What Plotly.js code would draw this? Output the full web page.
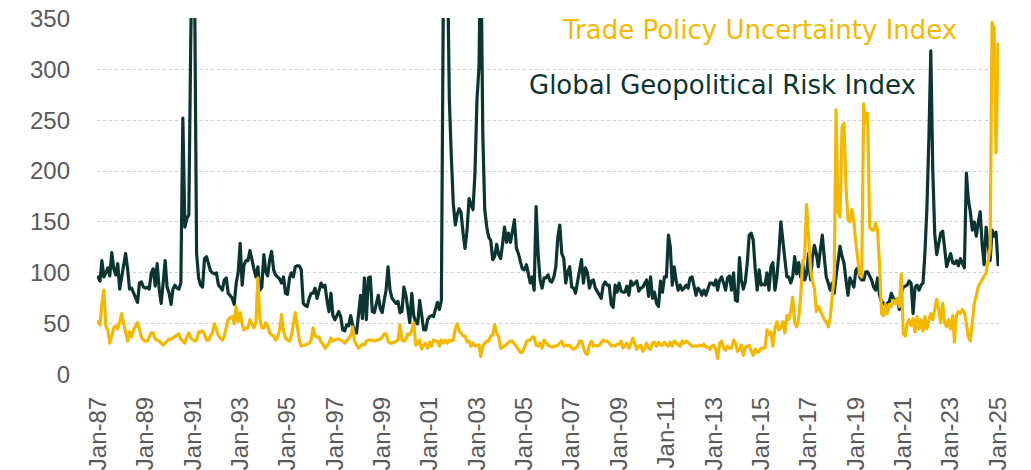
<!DOCTYPE html>
<html>
<head>
<meta charset="utf-8">
<script src="https://cdn.plot.ly/plotly-3.0.1.min.js"></script>
<style>
  html, body { margin: 0; padding: 0; background: #ffffff; }
  #chart { width: 1031px; height: 470px; }
  .scatterlayer path.js-line { stroke-linejoin: round; stroke-linecap: round; }
</style>
</head>
<body>
<div id="chart"></div>
<script>
// ---- Data (monthly, Jan-1987 .. Jan-2025) ----
const startYear = 1987;

const seriesNames = ["Global Geopolitical Risk Index", "Trade Policy Uncertainty Index"];

const gprValues = [
  96, 92, 112, 96, 100, 105, 97, 120, 104, 98, 109, 84,      // 1987
  96, 106, 119, 104, 84, 85, 80, 77, 71, 90, 91, 86,         // 1988
  85, 86, 84, 100, 104, 87, 109, 84, 70, 90, 112, 86,        // 1989
  80, 69, 84, 88, 85, 84, 90, 252, 145, 153, 157, 330,       // 1990
  450, 360, 119, 95, 88, 86, 114, 116, 110, 102, 100, 99,    // 1991
  100, 88, 86, 83, 93, 95, 80, 77, 75, 69, 90, 100,          // 1992
  129, 88, 108, 112, 112, 122, 112, 104, 96, 106, 83, 86,    // 1993
  118, 101, 97, 113, 121, 103, 98, 96, 94, 90, 96, 80,       // 1994
  79, 95, 100, 96, 106, 107, 107, 103, 70, 68, 67, 75,       // 1995
  80, 80, 85, 75, 83, 90, 86, 88, 73, 62, 80, 58,            // 1996
  54, 58, 62, 57, 44, 43, 49, 48, 58, 49, 43, 41,            // 1997
  58, 78, 55, 95, 54, 95, 96, 62, 61, 70, 78, 65,            // 1998
  61, 73, 83, 106, 83, 75, 72, 70, 72, 61, 62, 86,           // 1999
  78, 64, 51, 80, 58, 51, 50, 73, 55, 44, 44, 54,            // 2000
  57, 58, 57, 64, 71, 64, 73, 380, 510, 420, 270, 215,       // 2001
  168, 147, 157, 163, 159, 139, 124, 142, 173, 167, 162, 198,// 2002
  270, 302, 430, 237, 162, 145, 135, 132, 113, 116, 128, 118,// 2003
  114, 129, 145, 130, 139, 130, 139, 152, 124, 119, 111, 104,// 2004
  103, 108, 100, 90, 96, 83, 165, 119, 93, 85, 95, 95,       // 2005
  98, 92, 91, 96, 106, 135, 147, 119, 114, 90, 101, 106,     // 2006
  86, 85, 80, 92, 99, 113, 90, 105, 100, 85, 92, 93,         // 2007
  85, 81, 78, 75, 88, 91, 88, 88, 69, 66, 88, 81,            // 2008
  90, 82, 81, 81, 87, 78, 92, 88, 90, 92, 82, 85,            // 2009
  86, 90, 93, 77, 96, 75, 81, 70, 67, 92, 81, 96,            // 2010
  96, 137, 126, 88, 106, 92, 83, 88, 83, 85, 88, 85,         // 2011
  95, 96, 88, 78, 85, 83, 78, 83, 78, 83, 90, 90,            // 2012
  88, 93, 83, 93, 96, 90, 83, 95, 97, 83, 100, 73,           // 2013
  72, 115, 93, 84, 91, 110, 137, 139, 132, 104, 83, 103,     // 2014
  88, 89, 88, 100, 83, 106, 110, 83, 96, 119, 150, 132,      // 2015
  115, 96, 96, 90, 96, 116, 99, 110, 96, 110, 93, 99,        // 2016
  119, 93, 115, 127, 119, 106, 122, 137, 115, 96, 90, 83,    // 2017
  90, 80, 96, 110, 126, 116, 110, 93, 78, 95, 90, 86,        // 2018
  103, 105, 96, 93, 93, 101, 101, 96, 93, 86, 83, 95,        // 2019
  78, 72, 70, 68, 70, 72, 80, 75, 73, 74, 64, 80,            // 2020
  86, 87, 88, 92, 90, 60, 86, 88, 83, 88, 90, 120,           // 2021
  165, 235, 318, 200, 138, 118, 128, 139, 141, 122, 106, 113,// 2022
  119, 110, 109, 112, 107, 114, 110, 105, 198, 172, 160, 142,// 2023
  150, 136, 149, 160, 128, 108, 145, 129, 112, 142, 136, 140,// 2024
  108                                                        // 2025
];

const tpuValues = [
  52, 49, 70, 83, 48, 44, 31, 39, 46, 48, 45, 52,            // 1987
  60, 50, 43, 33, 42, 37, 44, 48, 51, 44, 37, 34,            // 1988
  33, 33, 37, 41, 41, 35, 34, 33, 31, 29, 31, 33,            // 1989
  35, 35, 36, 37, 38, 40, 35, 33, 31, 37, 41, 36,            // 1990
  34, 33, 34, 42, 42, 43, 40, 34, 34, 38, 42, 50,            // 1991
  44, 38, 36, 34, 38, 45, 54, 56, 57, 50, 67, 52,            // 1992
  61, 49, 44, 46, 46, 54, 49, 46, 51, 95, 55, 46,            // 1993
  46, 51, 48, 41, 39, 38, 34, 37, 44, 59, 43, 36,            // 1994
  34, 33, 38, 52, 61, 48, 34, 28, 29, 29, 30, 31,            // 1995
  34, 46, 38, 37, 37, 32, 30, 26, 28, 31, 36, 33,            // 1996
  34, 35, 35, 34, 33, 31, 33, 36, 38, 47, 33, 29,            // 1997
  26, 28, 30, 29, 33, 34, 34, 34, 33, 34, 34, 35,            // 1998
  37, 40, 40, 33, 31, 31, 32, 33, 34, 49, 34, 33,            // 1999
  35, 40, 39, 44, 51, 29, 30, 34, 25, 29, 31, 26,            // 2000
  32, 28, 34, 33, 33, 28, 34, 31, 34, 31, 34, 33,            // 2001
  34, 45, 50, 43, 41, 38, 38, 32, 33, 28, 31, 28,            // 2002
  29, 29, 18, 28, 31, 33, 33, 38, 39, 49, 41, 37,            // 2003
  26, 27, 28, 30, 32, 33, 33, 30, 28, 24, 22, 22,            // 2004
  28, 32, 34, 34, 37, 37, 29, 28, 31, 26, 34, 31,            // 2005
  29, 28, 27, 28, 28, 29, 31, 33, 28, 29, 28, 29,            // 2006
  26, 25, 26, 28, 33, 33, 27, 21, 20, 29, 33, 28,            // 2007
  29, 28, 29, 32, 34, 33, 33, 31, 28, 29, 28, 30,            // 2008
  30, 33, 26, 28, 31, 26, 30, 36, 31, 25, 28, 29,            // 2009
  23, 26, 31, 26, 25, 31, 32, 28, 32, 29, 29, 32,            // 2010
  29, 28, 32, 28, 33, 31, 29, 28, 33, 31, 33, 31,            // 2011
  29, 28, 28, 28, 28, 29, 28, 30, 27, 27, 25, 28,            // 2012
  29, 24, 16, 31, 33, 26, 24, 28, 26, 26, 34, 31,            // 2013
  23, 25, 29, 19, 27, 28, 29, 23, 19, 25, 22, 23,            // 2014
  26, 26, 26, 44, 39, 42, 28, 45, 52, 44, 47, 52,            // 2015
  41, 58, 54, 62, 76, 52, 47, 55, 76, 111, 115, 167,         // 2016
  130, 104, 92, 85, 62, 67, 63, 58, 54, 52, 47, 56,          // 2017
  75, 98, 260, 160, 155, 243, 247, 185, 152, 150, 162, 150,  // 2018
  129, 110, 98, 96, 266, 247, 257, 145, 142, 142, 149, 142,  // 2019
  108, 60, 58, 69, 60, 69, 67, 73, 70, 75, 67, 99,           // 2020
  40, 38, 50, 54, 48, 55, 42, 57, 45, 54, 43, 57,            // 2021
  45, 54, 60, 54, 64, 74, 64, 51, 70, 51, 47, 54,            // 2022
  45, 58, 32, 58, 62, 60, 64, 61, 50, 37, 33, 50,            // 2023
  70, 78, 86, 90, 93, 96, 100, 112, 125, 346, 340, 218,      // 2024
  325                                                        // 2025
];

const tickDates = ["1987-01-01","1989-01-01","1991-01-01","1993-01-01","1995-01-01",
  "1997-01-01","1999-01-01","2001-01-01","2003-01-01","2005-01-01","2007-01-01",
  "2009-01-01","2011-01-01","2013-01-01","2015-01-01","2017-01-01","2019-01-01",
  "2021-01-01","2023-01-01","2025-01-01"];
const tickLabels = ["Jan-87","Jan-89","Jan-91","Jan-93","Jan-95","Jan-97","Jan-99",
  "Jan-01","Jan-03","Jan-05","Jan-07","Jan-09","Jan-11","Jan-13","Jan-15","Jan-17",
  "Jan-19","Jan-21","Jan-23","Jan-25"];
const yTicks = [0, 50, 100, 150, 200, 250, 300, 350];

// monthly category dates
function monthDates(n) {
  const out = [];
  for (let i = 0; i < n; i++) {
    const y = startYear + Math.floor(i / 12);
    const m = (i % 12) + 1;
    out.push(y + "-" + (m < 10 ? "0" + m : m) + "-01");
  }
  return out;
}
const dates = monthDates(gprValues.length);

const DARK = "#0B3530";
const YELLOW = "#F5B800";
const AXIS_GREY = "#595959";

const traces = [
  { type: "scatter", mode: "lines", name: seriesNames[0], x: dates, y: gprValues,
    line: { color: DARK, width: 3.2 }, hoverinfo: "skip" },
  { type: "scatter", mode: "lines", name: seriesNames[1], x: dates, y: tpuValues,
    line: { color: YELLOW, width: 3.2 }, hoverinfo: "skip" }
];

const layout = {
  width: 1031, height: 470,
  margin: { l: 97, r: 32, t: 18, b: 95, pad: 0 },
  paper_bgcolor: "#ffffff", plot_bgcolor: "#ffffff",
  showlegend: false,
  xaxis: {
    type: "date",
    range: ["1986-12-16", "2025-01-16"],
    tickmode: "array", tickvals: tickDates, ticktext: tickLabels,
    tickangle: -90,
    tickfont: { family: "Liberation Sans, Arial, sans-serif", size: 24, color: AXIS_GREY },
    showgrid: false, zeroline: false, showline: false, ticks: "",
    ticklabelstandoff: 16, automargin: false, fixedrange: true
  },
  yaxis: {
    range: [-0.3, 350.3],
    tickmode: "array", tickvals: yTicks,
    tickfont: { family: "Liberation Sans, Arial, sans-serif", size: 24, color: AXIS_GREY },
    showgrid: true, gridcolor: "#CFCFCF", gridwidth: 1, griddash: "dot",
    zeroline: false, showline: false, ticks: "",
    ticklabelstandoff: 26, automargin: false, fixedrange: true
  },
  annotations: [
    { xref: "paper", yref: "paper", x: 0.7345, y: 0.9664, xanchor: "center", yanchor: "middle",
      showarrow: false, text: seriesNames[1],
      font: { family: "DejaVu Sans, sans-serif", size: 26, color: YELLOW } },
    { xref: "paper", yref: "paper", x: 0.694, y: 0.8123, xanchor: "center", yanchor: "middle",
      showarrow: false, text: seriesNames[0],
      font: { family: "DejaVu Sans, sans-serif", size: 26, color: DARK } }
  ]
};

Plotly.newPlot("chart", traces, layout, { displayModeBar: false, staticPlot: true });
</script>
</body>
</html>
